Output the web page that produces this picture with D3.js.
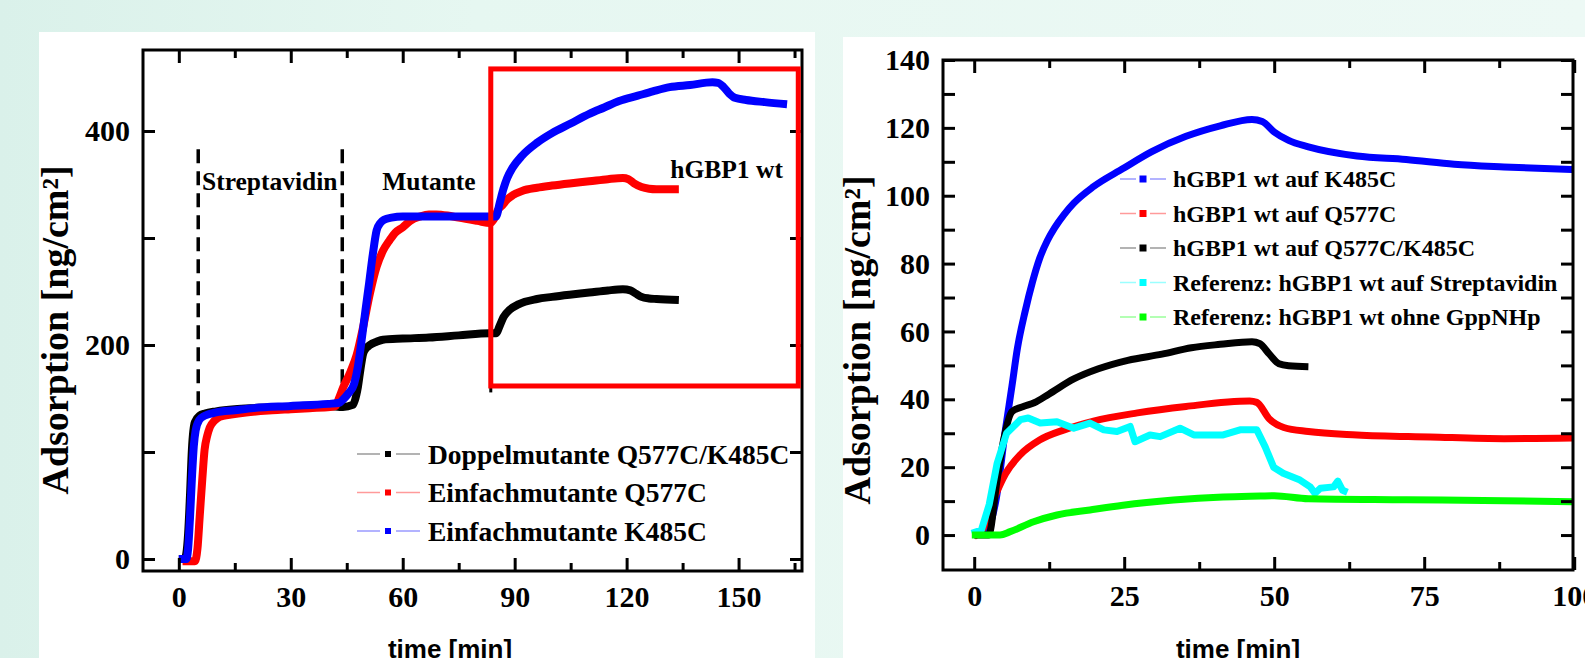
<!DOCTYPE html>
<html><head><meta charset="utf-8">
<script src="https://cdn.jsdelivr.net/npm/d3@7"></script>
<style>
html,body{margin:0;padding:0;width:1585px;height:658px;overflow:hidden;}
body{background:linear-gradient(90deg,#daf1ea 0%,#e6f7f1 30%,#edf9f5 100%);}
svg{display:block;}
</style></head>
<body>
<svg id="c" width="1585" height="658"></svg>
<script>
// ---------- DATA: left chart (time [min], Adsorption [ng/cm²]) ----------
const leftTicksMajorX = [0, 30, 60, 90, 120, 150];
const leftTicksMinorX = [15, 45, 75, 105, 135, 165];
const leftTicksY = [0, 100, 200, 300, 400];
const leftLabelsY = [0, 200, 400];

const doppelL = [[0,0],[1.5,0],[2,5],[2.5,24],[3,60],[3.5,102],[4.3,128],[5.6,134],[7,136],[10,138],[15,140],[20,141],[30,142],[40,143],[44,142],[46.6,144],[48,161],[48.7,178],[49.4,192],[50.2,197],[51.2,200],[53,203],[54.7,205],[60,206],[67,207],[75,209],[83.3,211],[85,211],[86,218],[87,226],[88.7,233],[91,238],[96,243],[100,245],[104.7,247],[110,249],[115,251],[119,252],[121,251],[122.5,248],[124,245],[126,243.5],[128,243],[134,242]];
const q577L = [[1,-2],[4.3,-2],[5,10],[5.6,40],[6.3,75],[6.9,102],[7.6,115],[8.3,123],[9.5,129],[11,133],[14,135],[18,137],[25,139],[30,140],[35,141],[40.5,142],[42,143],[43,151],[44,160],[46,175],[47.6,190],[49.4,217],[51.2,248],[53,273],[54.7,288],[56.5,298],[58,305],[60,310],[62,316],[64.6,320],[67,322],[69,322],[72,321],[75,319],[80,316],[83.5,314],[84.5,318],[85.5,326],[86.8,331],[88,336],[89.5,340],[92,344],[96,347],[100,349],[104.7,351],[110,353],[115,355],[119,356],[120.5,355],[122,351],[124,347.6],[126,346],[128,345.5],[134,345.5]];
const k485L = [[0,0],[2,0],[2.5,10],[3,39],[3.5,75],[4,105],[4.5,120],[5.5,130],[7,134],[10,137],[15,139],[20,141],[30,143],[40,145],[43,146],[44,149],[45.5,155],[47,164],[48,180],[49,205],[50,232],[51,258],[52,285],[53,307],[54,314],[55,317],[57,319],[60,320],[70,320],[80,320],[85,320],[86,333],[87,346],[88,356],[89.5,366],[92,377],[96,389],[100,398],[105,407],[110,416],[114,422],[118,428],[123,433],[127,437],[131.5,441],[137,443],[143,445.5],[144.5,445],[146,441],[147.5,435],[149,431],[152,429],[157,427],[163,425]];

const leftSeriesNames = ["Doppelmutante Q577C/K485C","Einfachmutante Q577C","Einfachmutante K485C"];
const leftColors = ["#000000","#ff0000","#0000ff"];
const leftLegendColors = ["#9a9a9a","#ff9a9a","#9a9aff"];

const phaseLines = [5.2, 43.8];      // dashed injection markers [min]
const phaseLineTop = 383;
const phaseLineBottom = [138, 146];
const phaseLabels = [["Streptavidin",6.2,345],["Mutante",54.5,345],["hGBP1 wt",131.7,356]];
const highlightBox = [83.6, 166, 161.7, 458]; // x0, x1, y0, y1 in data units

// ---------- DATA: right chart ----------
const rightTicksMajorX = [0, 25, 50, 75, 100];
const rightTicksMinorX = [12.5, 37.5, 62.5, 87.5];
const rightTicksY = [0,10,20,30,40,50,60,70,80,90,100,110,120,130,140];
const rightLabelsY = [0,20,40,60,80,100,120,140];

const wtK485 = [[0,0],[2,1],[3.6,10],[5.2,31],[6.3,44],[7.2,55],[8.5,66],[9.7,74.5],[10.9,81.5],[12.2,86.8],[13.4,90.5],[15,94.5],[16.6,97.8],[19.9,102.7],[24.8,108],[29.6,113],[35.3,117.5],[41,120.6],[46.3,122.5],[48,121.9],[50,118.8],[52.4,116.3],[55.7,114.4],[63.8,111.7],[72,110.7],[80,109.3],[88.3,108.5],[99.7,107.7]];
const wtQ577 = [[0,-0.4],[1.5,2],[3.6,12],[5.2,18],[7.7,23.7],[10.9,28],[15,31],[19.9,33.6],[27.2,36],[35.3,37.9],[45.9,39.5],[47.1,39.1],[49.2,34.2],[51.6,31.7],[55.7,30.5],[63.8,29.5],[76,28.9],[88.3,28.4],[99.7,28.6]];
const wtDoppel = [[0,0],[2.4,0],[3.8,16],[4.9,28],[6.3,36.4],[8.2,37.9],[10,39],[12.5,41.6],[16.6,46],[20.7,49],[25.6,51.5],[31.3,53.3],[36.2,55.2],[41,56.2],[46.3,57],[47.6,56.4],[49.2,53.3],[50.8,50.5],[52.4,49.9],[55.7,49.6]];
const refStrep = [[-0.4,0.5],[1.2,1.5],[2.5,9],[3.8,21],[5.4,30],[7.7,34],[9,34.5],[11,33],[13.8,33.4],[16.6,31.5],[19.3,33],[21.6,31],[23.8,30.5],[26,32],[26.8,27.5],[29.3,29.5],[31,29],[34.3,31.5],[36.6,29.5],[41.5,29.5],[44.3,31],[47.1,31],[48.5,26],[49.9,20],[51.5,18.2],[54.3,16.2],[56,14.2],[56.8,12.3],[57.7,13.8],[59.9,14.2],[60.6,15.9],[61.4,13.2],[62.2,12.6]];
const refNoGpp = [[-0.4,0],[4.3,0],[6,1],[9.9,3.9],[13.8,5.9],[19.3,7.4],[24.8,8.8],[33.2,10.3],[41.5,11.2],[47.7,11.5],[50,11.6],[55.7,10.7],[72,10.4],[88.3,10.1],[99.7,9.8]];

const rightSeriesNames = ["hGBP1 wt auf K485C","hGBP1 wt auf Q577C","hGBP1 wt auf Q577C/K485C","Referenz: hGBP1 wt auf Streptavidin","Referenz: hGBP1 wt ohne GppNHp"];
const rightColors = ["#0000ff","#ff0000","#000000","#00ffff","#00ff00"];
const rightLegendColors = ["#9a9aff","#ff9a9a","#9a9a9a","#9affff","#9aff9a"];

const xTitle = "time [min]";
const yTitle = "Adsorption [ng/cm²]";

// ---------- DRAW ----------
const svg = d3.select("#c");
const SERIF = "'Liberation Serif','Times New Roman',serif";
const SANS = "'Liberation Sans',Arial,sans-serif";

// panels
svg.append("rect").attr("x",39).attr("y",32).attr("width",776).attr("height",640).attr("fill","#fff");
svg.append("rect").attr("x",843).attr("y",37).attr("width",760).attr("height",640).attr("fill","#fff");

function frameAxes(g, x, y, o){
  const [x0,x1] = x.range(), [y0,y1] = y.range();
  const styleAxis = sel => { sel.select(".domain").remove(); sel.selectAll("line").attr("stroke","#000").attr("stroke-width",3);
    sel.selectAll("text").attr("font-family",SERIF).attr("font-weight","bold").attr("font-size",30).attr("fill","#000"); };
  const fmt = d => o.labelsY.includes(d) ? d : "";
  g.append("g").attr("transform",`translate(0,${y0})`).call(d3.axisBottom(x).tickValues(o.majX).tickSize(-13).tickSizeOuter(0).tickPadding(15)).call(styleAxis);
  g.append("g").attr("transform",`translate(0,${y0})`).call(d3.axisBottom(x).tickValues(o.minX).tickSize(-8).tickSizeOuter(0).tickFormat("")).call(styleAxis);
  g.append("g").attr("transform",`translate(0,${y1})`).call(d3.axisTop(x).tickValues(o.majX).tickSize(-13).tickSizeOuter(0).tickFormat("")).call(styleAxis);
  g.append("g").attr("transform",`translate(0,${y1})`).call(d3.axisTop(x).tickValues(o.minX).tickSize(-8).tickSizeOuter(0).tickFormat("")).call(styleAxis);
  g.append("g").attr("transform",`translate(${x0},0)`).call(d3.axisLeft(y).tickValues(o.ticksY).tickSize(-12).tickSizeOuter(0).tickPadding(13).tickFormat(fmt)).call(styleAxis);
  g.append("g").attr("transform",`translate(${x1},0)`).call(d3.axisRight(y).tickValues(o.ticksY).tickSize(-12).tickSizeOuter(0).tickFormat("")).call(styleAxis);
  g.append("rect").attr("x",x0).attr("y",y1).attr("width",x1-x0).attr("height",y0-y1).attr("fill","none").attr("stroke","#000").attr("stroke-width",3);
}

function drawLines(g, x, y, series, colors, width, curves){
  series.forEach((s,i)=>{
    const line = d3.line().x(d=>x(d[0])).y(d=>y(d[1])).curve(curves[i]);
    g.append("path").attr("d",line(s)).attr("fill","none").attr("stroke",colors[i]).attr("stroke-width",width).attr("stroke-linejoin","round").attr("stroke-linecap","butt");
  });
}

function legend(g, names, colors, lc, o){
  names.forEach((n,i)=>{
    const cy = o.y0 + i*o.dy;
    g.append("line").attr("x1",o.lx0).attr("x2",o.sq-o.gap).attr("y1",cy).attr("y2",cy).attr("stroke",lc[i]).attr("stroke-width",1.5);
    g.append("line").attr("x1",o.sq+o.gap).attr("x2",o.lx1).attr("y1",cy).attr("y2",cy).attr("stroke",lc[i]).attr("stroke-width",1.5);
    g.append("rect").attr("x",o.sq-o.s/2).attr("y",cy-o.s/2).attr("width",o.s).attr("height",o.s).attr("fill",colors[i]);
    g.append("text").attr("x",o.tx).attr("y",cy+o.base).text(n).attr("font-family",SERIF).attr("font-weight","bold").attr("font-size",o.fs).attr("fill","#000");
  });
}

// ----- left chart -----
const xL = d3.scaleLinear().domain([-9.6,167]).range([143,802]);
const yL = d3.scaleLinear().domain([-11.2,475.7]).range([571,50]);
const gL = svg.append("g");

phaseLines.forEach((p,i)=>{
  gL.append("line").attr("x1",xL(p)).attr("x2",xL(p)).attr("y1",yL(phaseLineTop)).attr("y2",yL(phaseLineBottom[i]))
    .attr("stroke","#000").attr("stroke-width",3.5).attr("stroke-dasharray","14,8");
});
drawLines(gL, xL, yL, [doppelL,q577L,k485L], leftColors, 8, [d3.curveMonotoneX,d3.curveMonotoneX,d3.curveMonotoneX]);
frameAxes(gL, xL, yL, {majX:leftTicksMajorX, minX:leftTicksMinorX, ticksY:leftTicksY, labelsY:leftLabelsY});
gL.append("line").attr("x1",xL(highlightBox[0])).attr("x2",xL(highlightBox[0])).attr("y1",yL(highlightBox[2])).attr("y2",yL(highlightBox[2]-6)).attr("stroke","#000").attr("stroke-width",3);
gL.append("rect").attr("x",xL(highlightBox[0])).attr("y",yL(highlightBox[3])).attr("width",xL(highlightBox[1])-xL(highlightBox[0])).attr("height",yL(highlightBox[2])-yL(highlightBox[3]))
  .attr("fill","none").attr("stroke","#ff0000").attr("stroke-width",5);
phaseLabels.forEach(l=>{
  gL.append("text").attr("x",xL(l[1])).attr("y",yL(l[2])).text(l[0]).attr("font-family",SERIF).attr("font-weight","bold").attr("font-size",25.5).attr("fill","#000");
});
legend(gL, leftSeriesNames, leftColors, leftLegendColors, {y0:454, dy:38.5, lx0:357, lx1:420, sq:388, gap:8, s:6, tx:428, base:9.5, fs:27.5});
gL.append("text").attr("transform","translate(68,330) rotate(-90)").attr("text-anchor","middle").text(yTitle)
  .attr("font-family",SERIF).attr("font-weight","bold").attr("font-size",38).attr("fill","#000");
gL.append("text").attr("x",450).attr("y",658).attr("text-anchor","middle").text(xTitle)
  .attr("font-family",SANS).attr("font-weight","bold").attr("font-size",26).attr("fill","#000");

// ----- right chart -----
const xR = d3.scaleLinear().domain([-5.2,99.8]).range([943,1573]);
const yR = d3.scaleLinear().domain([-10.3,140]).range([570,60]);
const gR = svg.append("g");
drawLines(gR, xR, yR, [wtK485,wtQ577,wtDoppel,refStrep,refNoGpp], rightColors, 7,
  [d3.curveMonotoneX,d3.curveMonotoneX,d3.curveMonotoneX,d3.curveLinear,d3.curveMonotoneX]);
frameAxes(gR, xR, yR, {majX:rightTicksMajorX, minX:rightTicksMinorX, ticksY:rightTicksY, labelsY:rightLabelsY});
legend(gR, rightSeriesNames, rightColors, rightLegendColors, {y0:179, dy:34.5, lx0:1120, lx1:1166, sq:1143, gap:7, s:7, tx:1173, base:8, fs:24});
gR.append("text").attr("transform","translate(870,340) rotate(-90)").attr("text-anchor","middle").text(yTitle)
  .attr("font-family",SERIF).attr("font-weight","bold").attr("font-size",38).attr("fill","#000");
gR.append("text").attr("x",1238).attr("y",658).attr("text-anchor","middle").text(xTitle)
  .attr("font-family",SANS).attr("font-weight","bold").attr("font-size",26).attr("fill","#000");
</script>
</body></html>
